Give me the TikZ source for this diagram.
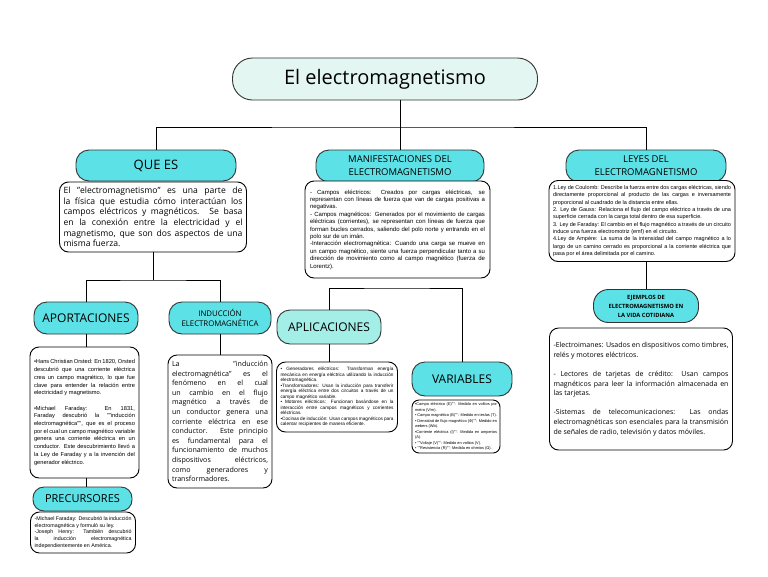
\documentclass[tikz,border=0pt]{standalone}
\usepackage{fontspec}
\setmainfont{Open Sans}
\newfontfamily\arial{Liberation Sans}

\definecolor{cian}{HTML}{5CE1E6}
\definecolor{menta}{HTML}{E3F6F2}
\definecolor{aguamarina}{HTML}{A4EEE8}
\definecolor{borde}{HTML}{333333}

\tikzset{
  caja/.style={draw=black, fill=white, line width=0.9pt, rounded corners=9pt,
    align=justify, inner xsep=4pt, inner ysep=2pt},
  rotulo/.style={draw=borde, fill=cian, line width=0.9pt, rounded corners=13pt,
    align=center, inner sep=2pt},
  enlace/.style={draw=black, line width=0.9pt},
}

\begin{document}
\begin{tikzpicture}[x=1pt, y=-1pt]
  \useasboundingbox[fill=white] (0,0) rectangle (768,576);
  \hyphenpenalty=10000

  % Título
  \node[draw=borde, fill=menta, line width=0.9pt, rounded corners=20pt,
    minimum width=305pt, minimum height=42pt,
    font=\fontsize{20}{24}\selectfont] (titulo) at (385,79) {El electromagnetismo};

  % Rótulos principales
  \node[rotulo, minimum width=160pt, minimum height=31pt,
    font=\fontsize{13}{15}\selectfont] (queEs) at (156,165.5) {QUE ES};
  \node[rotulo, minimum width=168pt, minimum height=32pt,
    font=\fontsize{9.5}{13}\selectfont] (manif) at (400,166) {MANIFESTACIONES DEL\\ELECTROMAGNETISMO};
  \node[rotulo, minimum width=160pt, minimum height=32pt,
    font=\fontsize{9.5}{13}\selectfont] (leyes) at (646,166) {LEYES DEL\\ELECTROMAGNETISMO};

  % QUE ES
  \node[caja, text width=179pt, minimum height=70pt,
    font=\fontsize{8.6}{10.6}\selectfont] (queEsTxt) at (153,217)
    {El "electromagnetismo" es una parte de la física que estudia cómo interactúan los campos eléctricos y magnéticos. Se basa en la conexión entre la electricidad y el magnetismo, que son dos aspectos de una misma fuerza.};

  % Manifestaciones
  \node[caja, text width=175pt, minimum height=97pt, inner xsep=5pt,
    font=\arial\fontsize{6}{7.4}\selectfont] (manifTxt) at (397.5,229.5)
    {- Campos eléctricos: Creados por cargas eléctricas, se representan con líneas de fuerza que van de cargas positivas a negativas.\par
     - Campos magnéticos: Generados por el movimiento de cargas eléctricas (corrientes), se representan con líneas de fuerza que forman bucles cerrados, saliendo del polo norte y entrando en el polo sur de un imán.\par
     -Interacción electromagnética: Cuando una carga se mueve en un campo magnético, siente una fuerza perpendicular tanto a su dirección de movimiento como al campo magnético (fuerza de Lorentz).};

  % Leyes
  \node[caja, text width=178pt, minimum height=81pt,
    font=\arial\fontsize{5.5}{7.3}\selectfont] (leyesTxt) at (642,221)
    {1.Ley de Coulomb: Describe la fuerza entre dos cargas eléctricas, siendo directamente proporcional al producto de las cargas e inversamente proporcional al cuadrado de la distancia entre ellas.\par
     2. Ley de Gauss: Relaciona el flujo del campo eléctrico a través de una superficie cerrada con la carga total dentro de esa superficie.\par
     3. Ley de Faraday: El cambio en el flujo magnético a través de un circuito induce una fuerza electromotriz (emf) en el circuito.\par
     4.Ley de Ampère: La suma de la intensidad del campo magnético a lo largo de un camino cerrado es proporcional a la corriente eléctrica que pasa por el área delimitada por el camino.};

  % Aportaciones e inducción
  \node[rotulo, minimum width=104pt, minimum height=32pt,
    font=\fontsize{12}{14}\selectfont] (aportaciones) at (86,318) {APORTACIONES};
  \node[rotulo, minimum width=102pt, minimum height=32pt,
    font=\fontsize{7.8}{10}\selectfont] (induccion) at (220,318) {INDUCCIÓN\\ELECTROMAGNÉTICA};

  \node[caja, text width=101pt, minimum height=131pt,
    font=\arial\fontsize{5.7}{7.7}\selectfont] (aportTxt) at (84.5,412.5)
    {•Hans Christian Orsted: En 1820, Orsted descubrió que una corriente eléctrica crea un campo magnético, lo que fue clave para entender la relación entre electricidad y magnetismo.\par\vspace{7.7pt}
     •Michael Faraday: En 1831, Faraday descubrió la ""inducción electromagnética"", que es el proceso por el cual un campo magnético variable genera una corriente eléctrica en un conductor. Este descubrimiento llevó a la Ley de Faraday y a la invención del generador eléctrico.};

  \node[caja, text width=96pt, minimum height=133pt,
    font=\fontsize{7.1}{9.6}\selectfont] (inducTxt) at (220,421.5)
    {La "inducción electromagnética" es el fenómeno en el cual un cambio en el flujo magnético a través de un conductor genera una corriente eléctrica en ese conductor. Este principio es fundamental para el funcionamiento de muchos dispositivos eléctricos, como generadores y transformadores.};

  % Precursores
  \node[rotulo, minimum width=99pt, minimum height=24pt, rounded corners=11pt,
    font=\fontsize{11}{13}\selectfont] (precursores) at (82.5,499) {PRECURSORES};
  \node[caja, text width=97pt, minimum height=41pt,
    font=\arial\fontsize{5.3}{6.8}\selectfont] (precTxt) at (83,532.5)
    {-Michael Faraday: Descubrió la inducción electromagnética y formuló su ley.\par
     -Joseph Henry: También descubrió la inducción electromagnética independientemente en América.};

  % Aplicaciones y variables
  \node[rotulo, fill=aguamarina, minimum width=104pt, minimum height=34pt,
    font=\fontsize{12}{14}\selectfont] (aplicaciones) at (329,327) {APLICACIONES};
  \node[caja, text width=113pt, minimum height=70pt,
    font=\arial\fontsize{4.7}{5.5}\selectfont] (aplicTxt) at (337,397)
    {• Generadores eléctricos: Transforman energía mecánica en energía eléctrica utilizando la inducción electromagnética.\par
     •Transformadores: Usan la inducción para transferir energía eléctrica entre dos circuitos a través de un campo magnético variable.\par
     • Motores eléctricos: Funcionan basándose en la interacción entre campos magnéticos y corrientes eléctricas.\par
     •Cocinas de inducción: Usan campos magnéticos para calentar recipientes de manera eficiente.};

  \node[rotulo, minimum width=100pt, minimum height=34pt,
    font=\fontsize{12}{14}\selectfont] (variables) at (462,379) {VARIABLES};
  \node[caja, text width=82pt, minimum height=53pt, inner xsep=3pt, rounded corners=7pt,
    font=\arial\fontsize{3.9}{5.5}\selectfont] (varTxt) at (456,426.5)
    {•Campo eléctrico (E)"": Medido en voltios por metro (V/m).\par
     • Campo magnético (B)"": Medido en teslas (T).\par
     • Densidad de flujo magnético (Φ)"": Medido en webers (Wb).\par
     •Corriente eléctrica (I)"": Medida en amperios (A).\par
     • ""Voltaje (V)"": Medido en voltios (V).\par
     • ""Resistencia (R)"": Medida en ohmios (Ω).};

  % Ejemplos
  \node[rotulo, minimum width=105pt, minimum height=33pt, rounded corners=15pt,
    font=\bfseries\fontsize{5.8}{9}\selectfont] (ejemplos) at (646,306)
    {EJEMPLOS DE\\ELECTROMAGNETISMO EN\\LA VIDA COTIDIANA};
  \node[caja, text width=175pt, minimum height=122pt,
    font=\fontsize{7}{9.6}\selectfont] (ejTxt) at (641,389)
    {-Electroimanes: Usados en dispositivos como timbres, relés y motores eléctricos.\par\vspace{9.6pt}
     - Lectores de tarjetas de crédito: Usan campos magnéticos para leer la información almacenada en las tarjetas.\par\vspace{9.6pt}
     -Sistemas de telecomunicaciones: Las ondas electromagnéticas son esenciales para la transmisión de señales de radio, televisión y datos móviles.};

  % Conectores
  \coordinate (ramaTitulo) at (385,127);
  \coordinate (ramaQue) at (153,280);
  \coordinate (ramaAplic) at (398,288);
  \draw[enlace] (titulo.south -| manif.north) -- (manif.north);
  \draw[enlace] (queEs.north) |- (ramaTitulo) -| (leyes.north);
  \draw[enlace] (queEsTxt.south -| ramaQue) -- (ramaQue);
  \draw[enlace] (aportaciones.north) |- (ramaQue) -| (induccion.north);
  \draw[enlace] (aportaciones.south) -- (aportaciones.south |- aportTxt.north);
  \draw[enlace] (aportaciones.south |- aportTxt.south) -- (aportaciones.south |- precursores.north);
  \draw[enlace] (induccion.south) -- (induccion.south |- inducTxt.north);
  \draw[enlace] (aplicaciones.north) |- (ramaAplic) -| (variables.north);
  \draw[enlace] (aplicaciones.south) -- (aplicaciones.south |- aplicTxt.north);
  \draw[enlace] (leyesTxt.south -| ejemplos.north) -- (ejemplos.north);
\end{tikzpicture}
\end{document}
